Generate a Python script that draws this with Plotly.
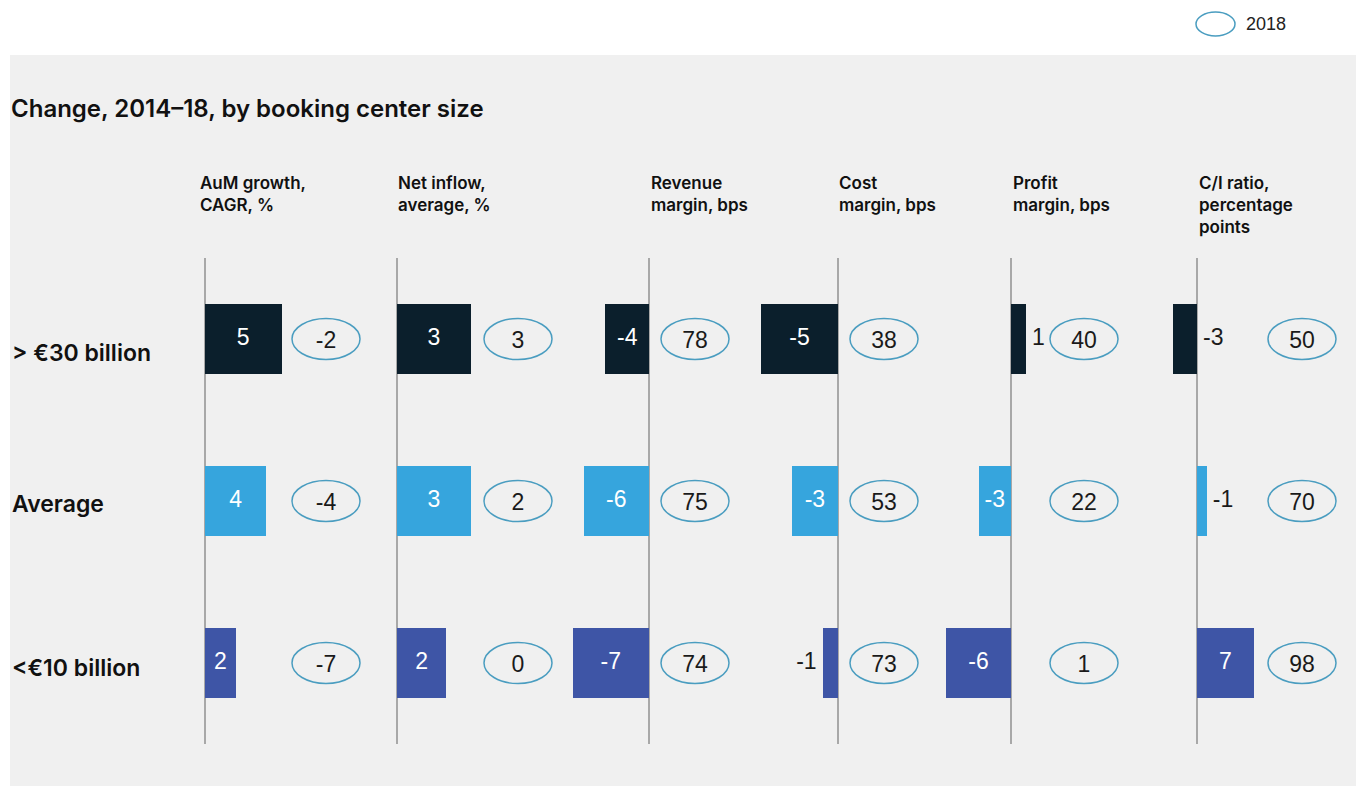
import plotly.graph_objects as go

W, H = 1356, 786

# ---------------- data ----------------
rows = ["> €30 billion", "Average", "<€10 billion"]
metrics = ["AuM growth,<br>CAGR, %", "Net inflow,<br>average, %", "Revenue<br>margin, bps",
           "Cost<br>margin, bps", "Profit<br>margin, bps", "C/I ratio,<br>percentage<br>points"]

# change 2014-18 (bar lengths as drawn)
aum_change = [5, 4, 2]
inflow_change = [3, 3, 2]
revenue_change = [-4, -6, -7]
cost_change = [-5, -3, -1]
profit_change = [1.4, -3, -6]
ci_change = [-3, 1.2, 7]

# change labels as printed
aum_labels = ["5", "4", "2"]
inflow_labels = ["3", "3", "2"]
revenue_labels = ["-4", "-6", "-7"]
cost_labels = ["-5", "-3", "-1"]
profit_labels = ["1", "-3", "-6"]
ci_labels = ["-3", "-1", "7"]

# 2018 values
aum_2018 = [-2, -4, -7]
inflow_2018 = [3, 2, 0]
revenue_2018 = [78, 75, 74]
cost_2018 = [38, 53, 73]
profit_2018 = [40, 22, 1]
ci_2018 = [50, 70, 98]

changes = [aum_change, inflow_change, revenue_change, cost_change, profit_change, ci_change]
labels = [aum_labels, inflow_labels, revenue_labels, cost_labels, profit_labels, ci_labels]
values_2018 = [aum_2018, inflow_2018, revenue_2018, cost_2018, profit_2018, ci_2018]

# ---------------- layout / style ----------------
row_colors = ["#0b1f2c", "#36a5dd", "#3e55a6"]
ellipse_color = "#4a9dc0"
axis_color = "#a8a8a8"
panel_color = "#f0f0f0"
num_font = "Liberation Sans, Arial, sans-serif"
bold_font = "Inter, Roboto, sans-serif"

zero_px = [205, 397, 649, 838, 1011, 1197]          # zero line of each column
scale_px = [15.3, 24.6, 10.9, 15.4, 10.8, 8.1]       # px per unit in each column
domain_px = [(150, 385), (385, 560), (560, 745), (745, 935), (935, 1150), (1150, 1350)]
ellipse_off_px = [121, 121, 46, 46, 73, 105]         # ellipse centre from zero line
header_px = [198, 396, 649, 837, 1011, 1197]
# label placement: in / right / left / axis (right of zero line)
placement = [["in", "in", "in"], ["in", "in", "in"], ["in", "in", "in"],
             ["in", "in", "left"], ["right", "in", "in"], ["axis", "right", "in"]]
label_pad_px = 6
ellipse_text_drop_px = 3

plot_top, plot_bot = 258, 744
row_pitch = (plot_bot - plot_top) / 3.0
bar_h = 70 / row_pitch
ell_w_px, ell_h_px = 68, 41


def fx(px):
    return px / W


def fy(py):
    return 1 - py / H


ypos = list(range(len(rows)))

fig = go.Figure()
shapes = []
annotations = []

for i in range(6):
    ax = "x" if i == 0 else f"x{i + 1}"
    s = scale_px[i]
    a, b = domain_px[i]
    z = zero_px[i]
    vals = changes[i]
    fig.add_trace(go.Bar(
        x=vals, y=ypos, orientation="h", xaxis=ax, yaxis="y",
        width=bar_h, marker=dict(color=row_colors, line=dict(width=0)),
        hoverinfo="skip", showlegend=False,
    ))
    # bar labels
    lx, lpos, lcol = [], [], []
    for r, v in enumerate(vals):
        p = placement[i][r]
        if p == "in":
            lx.append(v / 2.0); lpos.append("middle center"); lcol.append("#ffffff")
        elif p == "right":
            lx.append(v + label_pad_px / s); lpos.append("middle right"); lcol.append("#1a1a1a")
        elif p == "left":
            lx.append(v - label_pad_px / s); lpos.append("middle left"); lcol.append("#1a1a1a")
        else:
            lx.append(label_pad_px / s); lpos.append("middle right"); lcol.append("#1a1a1a")
    fig.add_trace(go.Scatter(
        x=lx, y=ypos, mode="text", text=labels[i], textposition=lpos,
        textfont=dict(family=num_font, size=23, color=lcol),
        xaxis=ax, yaxis="y", hoverinfo="skip", showlegend=False,
    ))
    # ellipses with 2018 values
    ex = ellipse_off_px[i] / s
    hw = ell_w_px / 2.0 / s
    hh = ell_h_px / 2.0 / row_pitch
    for r in ypos:
        shapes.append(dict(type="circle", xref=ax, yref="y",
                           x0=ex - hw, x1=ex + hw, y0=r - hh, y1=r + hh,
                           line=dict(color=ellipse_color, width=1.5), layer="above"))
    fig.add_trace(go.Scatter(
        x=[ex] * len(ypos), y=[r + ellipse_text_drop_px / row_pitch for r in ypos],
        mode="text", text=[str(v) for v in values_2018[i]],
        textposition="middle center",
        textfont=dict(family=num_font, size=23, color="#1a1a1a"),
        xaxis=ax, yaxis="y", hoverinfo="skip", showlegend=False,
    ))
    xa = dict(domain=[fx(a), fx(b)], range=[(a - z) / s, (b - z) / s],
              showgrid=False, showticklabels=False, ticks="", showline=False,
              zeroline=True, zerolinecolor=axis_color, zerolinewidth=2,
              anchor="y", fixedrange=True)
    fig.update_layout(**{("xaxis" if i == 0 else f"xaxis{i + 1}"): xa})
    # column header
    annotations.append(dict(xref="paper", yref="paper", x=fx(header_px[i]), y=fy(171),
                            xanchor="left", yanchor="top", align="left", showarrow=False,
                            text=metrics[i],
                            font=dict(family=bold_font, size=17, color="#111111", weight=600)))

# row labels
row_shift = [-14, -3, -5]
for r, name in enumerate(rows):
    annotations.append(dict(xref="paper", yref="y", x=fx(10), y=r, xanchor="left",
                            yanchor="middle", showarrow=False, text=name, yshift=row_shift[r],
                            font=dict(family=bold_font, size=23, color="#111111", weight=600)))

# title
annotations.append(dict(xref="paper", yref="paper", x=fx(9), y=fy(108), xanchor="left",
                        yanchor="middle", showarrow=False,
                        text="Change, 2014–18, by booking center size",
                        font=dict(family=bold_font, size=24, color="#111111", weight=600)))

# legend
shapes.append(dict(type="circle", xref="paper", yref="paper", x0=fx(1196), x1=fx(1235),
                   y0=fy(36), y1=fy(12), line=dict(color=ellipse_color, width=1.5)))
annotations.append(dict(xref="paper", yref="paper", x=fx(1244), y=fy(24), xanchor="left",
                        yanchor="middle", showarrow=False, text="2018",
                        font=dict(family=num_font, size=18, color="#222222")))

# grey panel
shapes.insert(0, dict(type="rect", xref="paper", yref="paper", x0=fx(10), x1=1, y0=0, y1=fy(55),
                      fillcolor=panel_color, line=dict(width=0), layer="below"))

fig.update_layout(
    width=W, height=H, autosize=False,
    margin=dict(l=0, r=0, t=0, b=0),
    paper_bgcolor="#ffffff", plot_bgcolor="rgba(0,0,0,0)",
    yaxis=dict(domain=[fy(plot_bot), fy(plot_top)], range=[2.5, -0.5],
               showgrid=False, showticklabels=False, ticks="", zeroline=False,
               showline=False, fixedrange=True),
    shapes=shapes, annotations=annotations,
    bargap=0, showlegend=False,
)

fig.write_html("out.html", config={"displayModeBar": False},
               post_script="document.body.style.margin='0';")
